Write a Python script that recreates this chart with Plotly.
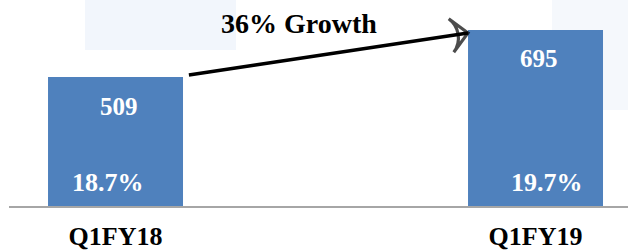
import plotly.graph_objects as go

categories = ["Q1FY18", "Q1FY19"]
values = [509, 695]
margins = ["18.7%", "19.7%"]
growth_label = "36% Growth"

x_pos = [0, 1]
bar_w = 0.3214
blue = "#4f81bd"
serif = "Liberation Serif, Times New Roman, serif"

fig = go.Figure()
fig.add_trace(go.Bar(x=x_pos, y=values, width=bar_w, marker=dict(color=blue, line=dict(width=0)),
                     hoverinfo="skip"))

# growth arrow from top of first bar to top of second bar
tail = (x_pos[0] + bar_w / 2 + 0.014, values[0] + 8)
tip = (x_pos[1] - bar_w / 2, values[1] - 12)
fig.add_trace(go.Scatter(
    x=[tail[0], tip[0]], y=[tail[1], tip[1]], mode="lines+markers",
    line=dict(color="black", width=3.5),
    marker=dict(symbol=["circle", "arrow-wide-open"], size=[0, 24], angleref="previous",
                color="black", line=dict(color="black", width=3.2)),
    hoverinfo="skip"))

plot_w = 628 - 9
plot_h = 251 - 45

annotations = []
xs_val = [3.5, 3.5]
xs_pct = [-7.5, 11.5]
for i, (x, v, m) in enumerate(zip(x_pos, values, margins)):
    annotations.append(dict(x=x, y=v, text=str(v), showarrow=False, yanchor="middle",
                            yshift=-29, xshift=xs_val[i],
                            font=dict(family=serif, size=25, color="white", weight="bold")))
    annotations.append(dict(x=x, y=0, text=m, showarrow=False, yanchor="middle",
                            yshift=24, xshift=xs_pct[i],
                            font=dict(family=serif, size=26, color="white", weight="bold")))
annotations.append(dict(x=(299 - 9) / plot_w, y=(206 - 24) / plot_h, xref="paper", yref="paper",
                        text=growth_label, showarrow=False, xanchor="center", yanchor="middle",
                        font=dict(family=serif, size=28, color="black", weight="bold")))

fig.update_layout(
    width=628, height=251,
    margin=dict(l=9, r=0, t=0, b=45),
    paper_bgcolor="white", plot_bgcolor="rgba(0,0,0,0)",
    showlegend=False,
    annotations=annotations,
    xaxis=dict(range=[-0.2536, 1.2202], tickvals=x_pos, ticktext=categories,
               showgrid=False, zeroline=False, showline=True, linecolor="#a6a6a6", linewidth=1.5,
               ticks="outside", ticklen=6, tickcolor="rgba(0,0,0,0)",
               tickfont=dict(family=serif, size=26, color="black", weight="bold")),
    yaxis=dict(range=[0, 813], visible=False, showgrid=False, zeroline=False),
)

# faint light-blue background panels
fig.add_shape(type="rect", xref="paper", yref="paper", x0=(85 - 9) / plot_w, x1=(236 - 9) / plot_w,
              y0=(206 - 50) / plot_h, y1=1.0, fillcolor="#f2f6fc", line=dict(width=0), layer="below")
fig.add_shape(type="rect", xref="paper", yref="paper", x0=(552 - 9) / plot_w, x1=1.0,
              y0=(206 - 110) / plot_h, y1=1.0, fillcolor="#f5f8fc", line=dict(width=0), layer="below")

fig.write_html("out.html", config={"displayModeBar": False},
               post_script="document.body.style.margin='0';")
